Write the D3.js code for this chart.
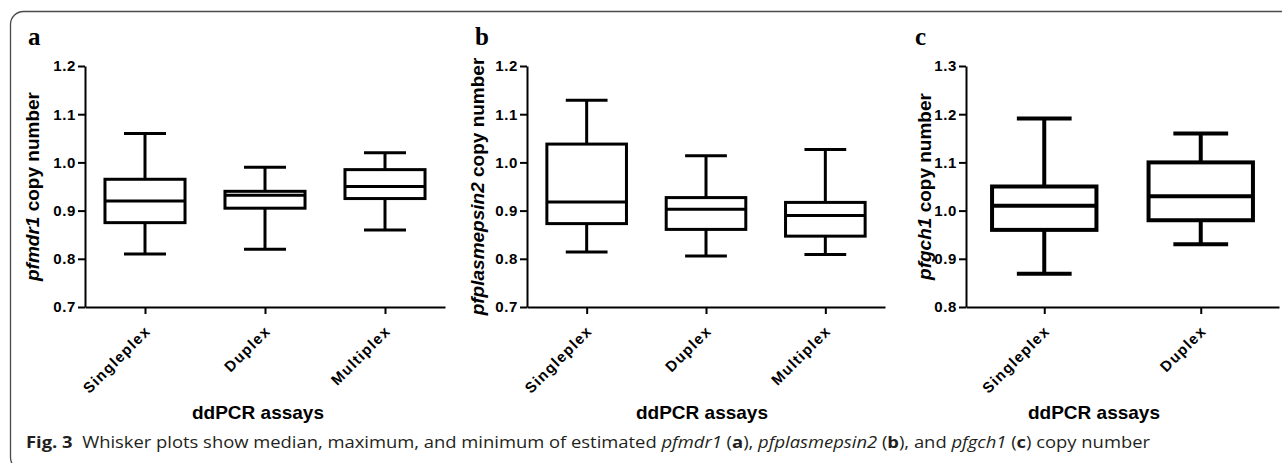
<!DOCTYPE html>
<html>
<head>
<meta charset="utf-8">
<script src="https://cdn.jsdelivr.net/npm/d3@7"></script>
<style>
  body { margin: 0; background: #fff; }
  svg { display: block; }
</style>
</head>
<body>
<div id="chart"></div>
<script>
const w = 1282;
const h = 463;
const sans = "'Liberation Sans', Arial, sans-serif";

// categories
const assays3 = ["Singleplex", "Duplex", "Multiplex"];
const assays2 = ["Singleplex", "Duplex"];

// a - pfmdr1
const mdrMin = [0.81, 0.82, 0.86];
const mdrQ1 = [0.875, 0.905, 0.925];
const mdrMedian = [0.92, 0.932, 0.95];
const mdrQ3 = [0.965, 0.94, 0.985];
const mdrMax = [1.06, 0.99, 1.02];

// b - pfplasmepsin2
const pmMin = [0.814, 0.806, 0.809];
const pmQ1 = [0.873, 0.861, 0.847];
const pmMedian = [0.918, 0.903, 0.89];
const pmQ3 = [1.038, 0.927, 0.917];
const pmMax = [1.129, 1.014, 1.027];

// c - pfgch1
const gchMin = [0.869, 0.93];
const gchQ1 = [0.96, 0.98];
const gchMedian = [1.01, 1.03];
const gchQ3 = [1.05, 1.10];
const gchMax = [1.191, 1.16];

// tick labels
const ticksAB = [0.7, 0.8, 0.9, 1.0, 1.1, 1.2];
const ticksC = [0.8, 0.9, 1.0, 1.1, 1.2, 1.3];

const svg = d3.select("#chart").
append("svg").
attr("width", w).
attr("height", h).
attr("font-family", sans);

//rounded frame around the whole figure
svg.append("rect").
attr("x", 10.5).
attr("y", 11.5).
attr("width", 1320).
attr("height", 459).
attr("rx", 13).
attr("fill", "none").
attr("stroke", "#4a4a4a").
attr("stroke-width", 1.3);

const plotTop = 66;
const plotBottom = 307;

function drawPanel(p) {
  const g = svg.append("g");

  const y = d3.scaleLinear().domain(p.yDomain).range([plotBottom, plotTop]);
  const x = d3.scalePoint().domain(p.cats).range([p.left, p.right]).padding(0.5);
  const step = x.step();

  const boxes = p.cats.map((c, i) => ({
    cat: c, min: p.min[i], q1: p.q1[i], med: p.med[i], q3: p.q3[i], max: p.max[i]
  }));

  //y axis
  const yAxis = d3.axisLeft(y).
  tickValues(p.ticks).
  tickFormat(d3.format(".1f")).
  tickSize(7).
  tickSizeOuter(0).
  tickPadding(2);

  const ya = g.append("g").
  attr("transform", "translate(" + p.left + ",0)").
  call(yAxis).
  attr("font-family", sans).
  attr("font-size", 15).
  attr("font-weight", "bold");

  //x axis
  const xAxis = d3.axisBottom(x).
  tickSize(7).
  tickSizeOuter(0).
  tickFormat("");

  const xa = g.append("g").
  attr("transform", "translate(0," + plotBottom + ")").
  call(xAxis).
  attr("font-family", sans).
  attr("font-size", 15).
  attr("font-weight", "bold");

  [ya, xa].forEach(a => {
    a.select(".domain").attr("stroke", "#000").attr("stroke-width", 2);
    a.selectAll(".tick line").attr("stroke", "#000").attr("stroke-width", 2);
  });
  ya.selectAll(".tick text").
  attr("fill", "#000").
  attr("letter-spacing", 0.6);

  //rotated category labels
  xa.selectAll(".tick").
  append("text").
  attr("fill", "#000").
  attr("letter-spacing", 1.3).
  attr("text-anchor", "end").
  attr("transform", "translate(6,25) rotate(-45)").
  text(d => d);

  const sw = p.stroke;
  const bw = step * 0.667;
  const cw = step * 0.35;

  const bx = g.selectAll(".box").
  data(boxes).
  enter().
  append("g").
  attr("class", "box").
  attr("stroke", "#000").
  attr("stroke-width", sw).
  attr("fill", "none");

  //whiskers
  bx.append("line").
  attr("x1", d => x(d.cat)).
  attr("x2", d => x(d.cat)).
  attr("y1", d => y(d.max)).
  attr("y2", d => y(d.q3));
  bx.append("line").
  attr("x1", d => x(d.cat)).
  attr("x2", d => x(d.cat)).
  attr("y1", d => y(d.q1)).
  attr("y2", d => y(d.min));
  //caps
  bx.append("line").
  attr("x1", d => x(d.cat) - cw / 2).
  attr("x2", d => x(d.cat) + cw / 2).
  attr("y1", d => y(d.max)).
  attr("y2", d => y(d.max));
  bx.append("line").
  attr("x1", d => x(d.cat) - cw / 2).
  attr("x2", d => x(d.cat) + cw / 2).
  attr("y1", d => y(d.min)).
  attr("y2", d => y(d.min));
  //box + median
  bx.append("rect").
  attr("x", d => x(d.cat) - bw / 2).
  attr("width", bw).
  attr("y", d => y(d.q3)).
  attr("height", d => y(d.q1) - y(d.q3)).
  attr("fill", "#fff");
  bx.append("line").
  attr("x1", d => x(d.cat) - bw / 2).
  attr("x2", d => x(d.cat) + bw / 2).
  attr("y1", d => y(d.med)).
  attr("y2", d => y(d.med));

  //y title with italic gene name
  const yt = g.append("text").
  attr("transform", "translate(" + p.yTitleX + "," + (plotTop + plotBottom) / 2 + ") rotate(-90)").
  attr("text-anchor", "middle").
  attr("dy", "0.35em").
  attr("font-size", 19).
  attr("font-weight", "bold").
  attr("fill", "#000");
  yt.append("tspan").attr("font-style", "italic").text(p.gene);
  yt.append("tspan").text(" copy number");

  //x title
  g.append("text").
  attr("x", p.xTitleX).
  attr("y", 419).
  attr("text-anchor", "middle").
  attr("font-size", 19).
  attr("font-weight", "bold").
  attr("fill", "#000").
  text("ddPCR assays");

  //panel letter
  g.append("text").
  attr("x", p.letterX).
  attr("y", 45).
  attr("font-family", "'Liberation Serif', 'Times New Roman', serif").
  attr("font-size", 25).
  attr("font-weight", "bold").
  attr("fill", "#000").
  text(p.letter);
}

drawPanel({ letter: "a", letterX: 28, gene: "pfmdr1", cats: assays3, yDomain: [0.7, 1.2], ticks: ticksAB,
  min: mdrMin, q1: mdrQ1, med: mdrMedian, q3: mdrQ3, max: mdrMax,
  left: 85, right: 445, yTitleX: 32, xTitleX: 258, stroke: 3 });

drawPanel({ letter: "b", letterX: 475, gene: "pfplasmepsin2", cats: assays3, yDomain: [0.7, 1.2], ticks: ticksAB,
  min: pmMin, q1: pmQ1, med: pmMedian, q3: pmQ3, max: pmMax,
  left: 527, right: 885, yTitleX: 477, xTitleX: 702, stroke: 3 });

drawPanel({ letter: "c", letterX: 915, gene: "pfgch1", cats: assays2, yDomain: [0.8, 1.3], ticks: ticksC,
  min: gchMin, q1: gchQ1, med: gchMedian, q3: gchQ3, max: gchMax,
  left: 966, right: 1279, yTitleX: 924, xTitleX: 1094, stroke: 4 });

//caption
const cap = svg.append("text").
attr("x", 26).
attr("y", 448).
attr("font-family", "'Open Sans', 'Noto Sans', sans-serif").
attr("font-size", 16).
attr("fill", "#231f20");

const parts = [
  ["Fig. 3", "bold", "normal"],
  ["  Whisker plots show median, maximum, and minimum of estimated ", "normal", "normal"],
  ["pfmdr1", "normal", "italic"],
  [" (", "normal", "normal"],
  ["a", "bold", "normal"],
  ["), ", "normal", "normal"],
  ["pfplasmepsin2", "normal", "italic"],
  [" (", "normal", "normal"],
  ["b", "bold", "normal"],
  ["), and ", "normal", "normal"],
  ["pfgch1", "normal", "italic"],
  [" (", "normal", "normal"],
  ["c", "bold", "normal"],
  [") copy number", "normal", "normal"]
];
parts.forEach(pt => {
  cap.append("tspan").
  attr("font-weight", pt[1]).
  attr("font-style", pt[2]).
  style("white-space", "pre").
  text(pt[0]);
});
//squeeze the caption to the width it has in the figure
cap.attr("textLength", 1124).attr("lengthAdjust", "spacingAndGlyphs");
</script>
</body>
</html>
